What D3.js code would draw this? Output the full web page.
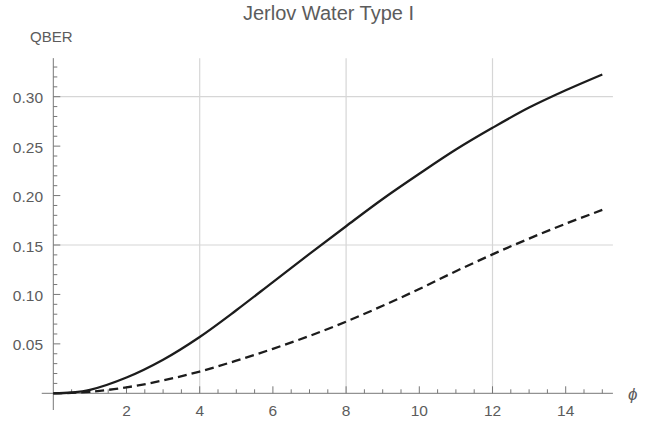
<!DOCTYPE html>
<html>
<head>
<meta charset="utf-8">
<script src="https://cdn.jsdelivr.net/npm/d3@7/dist/d3.min.js"></script>
<style>
  html, body { margin: 0; padding: 0; background: #fff; }
  svg { display: block; font-family: "Liberation Sans", Arial, sans-serif; }
</style>
</head>
<body>
<svg id="chart" width="660" height="421"></svg>
<script>
// Phase values (φ) and the two QBER series
const phi = [0, 0.5, 1, 2, 3, 4, 5, 6, 7, 8, 9, 10, 11, 12, 13, 14, 15];
const qberSolid = [0, 0.0008, 0.0035, 0.016, 0.034, 0.057, 0.084, 0.1125, 0.141, 0.169, 0.1965, 0.222, 0.2465, 0.2685, 0.289, 0.3065, 0.3225];
const qberDashed = [0, 0.0004, 0.0015, 0.006, 0.013, 0.022, 0.033, 0.045, 0.058, 0.0725, 0.0885, 0.1055, 0.1235, 0.1405, 0.1565, 0.1715, 0.1855];

const xMajor = [2, 4, 6, 8, 10, 12, 14];
const yMajor = [0.05, 0.10, 0.15, 0.20, 0.25, 0.30];
const xGrid = [4, 8, 12];
const yGrid = [0.15, 0.30];

const titleText = "Jerlov Water Type I";
const yLabel = "QBER";
const xLabel = "ϕ";

const svg = d3.select("#chart");

// Plot range includes a little padding beyond the data
const xMin = -0.316, xMax = 15.29;
const yMin = -0.0169, yMax = 0.339;
const x = d3.scaleLinear().domain([0, 15]).range([53.3, 602.3]);
const y = d3.scaleLinear().domain([0, 0.30]).range([393.3, 96.7]);

const textColor = "#5c5c5c";
const axisColor = "#777";
const gridColor = "#d6d6d6";

// grid lines
svg.append("g").selectAll("line").data(xGrid).join("line")
  .attr("x1", d => x(d)).attr("x2", d => x(d))
  .attr("y1", y(yMax)).attr("y2", y(0))
  .attr("stroke", gridColor).attr("stroke-width", 1.2);
svg.append("g").selectAll("line").data(yGrid).join("line")
  .attr("x1", x(0)).attr("x2", x(xMax))
  .attr("y1", d => y(d)).attr("y2", d => y(d))
  .attr("stroke", gridColor).attr("stroke-width", 1.2);

// axes lines
svg.append("line")
  .attr("x1", x(xMin)).attr("x2", x(xMax))
  .attr("y1", y(0)).attr("y2", y(0))
  .attr("stroke", axisColor).attr("stroke-width", 1);
svg.append("line")
  .attr("x1", x(0)).attr("x2", x(0))
  .attr("y1", y(yMin)).attr("y2", y(yMax))
  .attr("stroke", axisColor).attr("stroke-width", 1);

// x ticks: minor every 0.5, major every 2
const xMinor = d3.range(1, 31).map(i => i * 0.5).filter(v => !xMajor.includes(v));
svg.append("g").selectAll("line").data(xMinor).join("line")
  .attr("x1", d => x(d)).attr("x2", d => x(d))
  .attr("y1", y(0)).attr("y2", y(0) - 4)
  .attr("stroke", axisColor);
svg.append("g").selectAll("line").data(xMajor).join("line")
  .attr("x1", d => x(d)).attr("x2", d => x(d))
  .attr("y1", y(0)).attr("y2", y(0) - 7)
  .attr("stroke", axisColor);
svg.append("g").selectAll("text").data(xMajor).join("text")
  .attr("x", d => x(d)).attr("y", 416)
  .attr("text-anchor", "middle")
  .attr("font-size", 15.5).attr("fill", textColor)
  .text(d => d);

// y ticks: minor every 0.01, major every 0.05
const yMinor = d3.range(1, 34).map(i => i / 100).filter(v => !yMajor.some(m => Math.abs(m - v) < 1e-9));
svg.append("g").selectAll("line").data(yMinor).join("line")
  .attr("x1", x(0)).attr("x2", x(0) + 4)
  .attr("y1", d => y(d)).attr("y2", d => y(d))
  .attr("stroke", axisColor);
svg.append("g").selectAll("line").data(yMajor).join("line")
  .attr("x1", x(0)).attr("x2", x(0) + 7)
  .attr("y1", d => y(d)).attr("y2", d => y(d))
  .attr("stroke", axisColor);
svg.append("g").selectAll("text").data(yMajor).join("text")
  .attr("x", 43).attr("y", d => y(d) + 6.5)
  .attr("text-anchor", "end")
  .attr("font-size", 15.5).attr("fill", textColor)
  .text(d => d3.format(".2f")(d));

// curves
const line = d3.line().x(d => x(d[0])).y(d => y(d[1])).curve(d3.curveCatmullRom.alpha(0.5));
svg.append("path")
  .datum(phi.map((p, i) => [p, qberSolid[i]]))
  .attr("d", line)
  .attr("fill", "none").attr("stroke", "#1c1c1c").attr("stroke-width", 2.3);
svg.append("path")
  .datum(phi.map((p, i) => [p, qberDashed[i]]))
  .attr("d", line)
  .attr("fill", "none").attr("stroke", "#1c1c1c").attr("stroke-width", 2.3)
  .attr("stroke-dasharray", "9,5");

// labels
svg.append("text")
  .attr("x", 328.5).attr("y", 20)
  .attr("text-anchor", "middle")
  .attr("font-size", 20).attr("fill", textColor)
  .text(titleText);
svg.append("text")
  .attr("x", 30).attr("y", 42)
  .attr("font-size", 15).attr("fill", textColor)
  .text(yLabel);
svg.append("text")
  .attr("x", 628).attr("y", 400)
  .attr("font-size", 17).attr("font-style", "italic").attr("fill", textColor)
  .text(xLabel);
</script>
</body>
</html>
